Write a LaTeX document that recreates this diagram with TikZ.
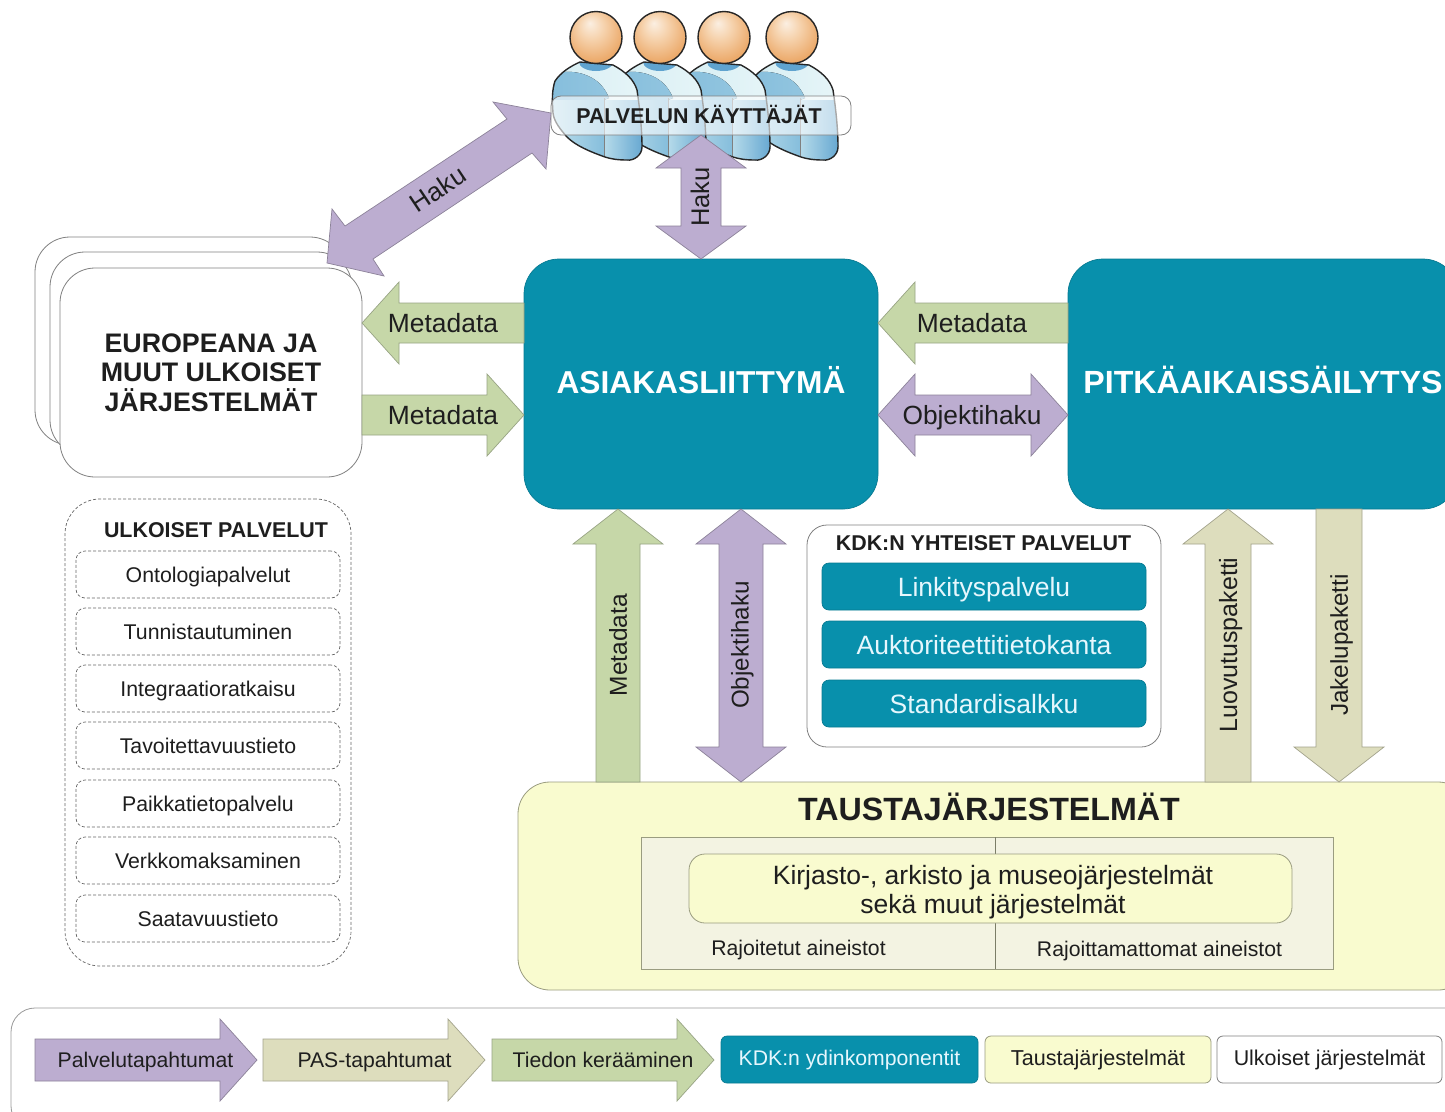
\documentclass[tikz,border=0pt]{standalone}
\usepackage{fontspec}
\setmainfont{Liberation Sans}
\usetikzlibrary{calc}
\definecolor{purp}{HTML}{BCADD0}
\definecolor{purpe}{HTML}{8C8299}
\definecolor{gre}{HTML}{C6D7A8}
\definecolor{gree}{HTML}{98A484}
\definecolor{kha}{HTML}{DDDDBD}
\definecolor{khae}{HTML}{A3A38C}
\definecolor{teal1}{HTML}{0890AC}
\definecolor{yel}{HTML}{F9FBCF}
\definecolor{yele}{HTML}{9A9C80}
\definecolor{inn}{HTML}{F3F3E2}
\definecolor{ink}{HTML}{1E1E1E}
\definecolor{bodyl}{HTML}{D6EEF3}
\definecolor{bodym}{HTML}{86BEDC}
\definecolor{bodyd}{HTML}{5FA3CF}
\definecolor{hd0}{HTML}{FBEFE2}
\definecolor{hd1}{HTML}{F6D3AE}
\definecolor{hd2}{HTML}{EBA766}
\definecolor{hd3}{HTML}{D98A3C}
\definecolor{hd4}{HTML}{B87025}
\pgfdeclareradialshading{headshade}{\pgfpoint{-6bp}{14bp}}{
  color(0bp)=(hd0); color(12bp)=(hd1); color(30bp)=(hd2); color(42bp)=(hd3); color(50bp)=(hd4)}
\tikzset{
  x=1pt,y=-1pt,
  sz/.style={font=\fontsize{#1}{#1}\selectfont,text height={#1*0.72pt},text depth=0pt},
  szb/.style={font=\fontsize{#1}{#1}\selectfont\bfseries,text height={#1*0.72pt},text depth=0pt},
  tx/.style={sz=#1,inner sep=0pt,text=ink},
  txb/.style={szb=#1,inner sep=0pt,text=ink},
  arrp/.style={fill=purp,draw=purpe,line width=.7pt,line join=miter},
  arrg/.style={fill=gre,draw=gree,line width=.7pt,line join=miter},
  arrk/.style={fill=kha,draw=khae,line width=.7pt,line join=miter},
  boxbase/.style={inner sep=0pt,outer sep=0pt,align=center},
  whitebox/.style={boxbase,fill=white,draw=black!50,line width=.8pt,rounded corners=#1},
  dashbox/.style={boxbase,draw=black!60,densely dashed,line width=.7pt,rounded corners=#1},
  tealbox/.style={boxbase,fill=teal1,draw=teal1!85!black,line width=.7pt,rounded corners=#1},
  yelbox/.style={boxbase,fill=yel,draw=yele,line width=.8pt,rounded corners=#1},
  itembox/.style={dashbox=9pt,sz=21.3,text=ink},
  tealtext/.style={text=white!90!cyan},
}
% name, x1, y1, x2, y2, style, text
\newcommand\bx[7]{\node[#6,minimum width={(#4-#2)*1pt},minimum height={(#5-#3)*1pt}] (#1) at ({(#2+#4)/2},{(#3+#5)/2}) {#7};}
% style, start, end, shaft half, head half, head length
\newcommand\arrone[6]{%
  \coordinate (s) at (#2); \coordinate (e) at (#3);
  \draw[#1] ($(s)!#4pt!90:(e)$) -- ($(e)!#6pt!(s)!#4pt!90:(e)$) -- ($(e)!#6pt!(s)!#5pt!90:(e)$) -- (e)
    -- ($(e)!#6pt!(s)!#5pt!-90:(e)$) -- ($(e)!#6pt!(s)!#4pt!-90:(e)$) -- ($(s)!#4pt!-90:(e)$) -- cycle;}
\newcommand\arrtwo[6]{%
  \coordinate (s) at (#2); \coordinate (e) at (#3);
  \draw[#1] (s) -- ($(s)!#6pt!(e)!#5pt!90:(e)$) -- ($(s)!#6pt!(e)!#4pt!90:(e)$)
    -- ($(e)!#6pt!(s)!#4pt!90:(e)$) -- ($(e)!#6pt!(s)!#5pt!90:(e)$) -- (e)
    -- ($(e)!#6pt!(s)!#5pt!-90:(e)$) -- ($(e)!#6pt!(s)!#4pt!-90:(e)$)
    -- ($(s)!#6pt!(e)!#4pt!-90:(e)$) -- ($(s)!#6pt!(e)!#5pt!-90:(e)$) -- cycle;}
% person: centre x of head
\newcommand\personbody[1]{%
  \begin{scope}[shift={(#1,0)}]
    \def\bodypath{(-43,113) .. controls (-44,100) and (-44,90) .. (-41,81) .. controls (-35,72) and (-25,66) .. (-16,62) -- (17,65) .. controls (30,72) and (38,80) .. (41,90) .. controls (44,110) and (46,130) .. (46,147) .. controls (46,155) and (38,161) .. (31,160) .. controls (22,160) and (15,159) .. (9,157) .. controls (-5,152) and (-20,146) .. (-29,137) .. controls (-35,130) and (-42,122) .. (-43,113) -- cycle}
    \fill[left color=bodyl,right color=bodyl!60!white] \bodypath;
    \begin{scope}
      \clip \bodypath;
      \fill[left color=bodym,right color=bodym!85!bodyl] (-46,76) .. controls (-30,68) and (-8,72) .. (4,84) .. controls (8,88) and (11,93) .. (13,98) -- (8,100) -- (-46,100) -- cycle;
      \fill[left color=bodyl!70!bodym,right color=bodym] (-46,100) -- (8,100) -- (8,165) -- (-46,165) -- cycle;
      \fill[left color=bodyl!60!bodym,right color=bodyd] (8,100) -- (50,100) -- (50,165) -- (8,165) -- cycle;
      \fill[bodyd] (0,62) ellipse (17 and 9);
      \draw[black!50,line width=.6pt] (8,98) -- (8,160);
    \end{scope}
    \draw[black!85,line width=1.4pt,line join=round] \bodypath;
  \end{scope}}
\newcommand\personhead[1]{\draw[black!85,line width=1.4pt,shading=headshade] (#1,37.5) circle (26);}
\begin{document}
\begin{tikzpicture}
\useasboundingbox (0,0) rectangle (1445,1111);
\fill[white] (0,0) rectangle (1445,1111);

% people
\personbody{792}\personbody{724}\personbody{660}\personbody{596}
\personhead{792}\personhead{724}\personhead{660}\personhead{596}

% external systems stack
\bx{extc}{35}{237}{345}{445}{whitebox=35pt}{}
\bx{extb}{50}{252}{352}{455}{whitebox=35pt}{}
\node[whitebox=35pt,minimum width=302pt,minimum height=209pt,font=\fontsize{26.8}{29.5}\selectfont\bfseries,text=ink] (ext) at (211,372.5) {EUROPEANA JA\\MUUT ULKOISET\\JÄRJESTELMÄT};

% core
\bx{asiakas}{524}{259}{878}{509}{tealbox=35pt,text=white,szb=31.7,text depth=4pt}{ASIAKASLIITTYMÄ}
\bx{pitka}{1068}{259}{1458}{509}{tealbox=35pt,text=white,szb=32.1,text depth=4pt}{PITKÄAIKAISSÄILYTYS}

% back-end systems
\bx{tausta}{518}{782}{1470}{990}{yelbox=32pt}{}
\node[txb=32.2] (taustat) at (989,809) {TAUSTAJÄRJESTELMÄT};
\bx{inner}{641}{837}{1333}{969}{boxbase,fill=inn,draw=yele,line width=.8pt}{}
\coordinate (divt) at (995,837); \coordinate (divb) at (995,969);
\draw[yele!80!black,line width=.8pt] (divt) -- (divb);
\bx{kirj}{689}{854}{1292}{923}{yelbox=16pt}{}
\node[boxbase,text=ink,font=\fontsize{26.5}{29.2}\selectfont] (kirjt) at (993,892.5) {Kirjasto-, arkisto ja museojärjestelmät\\sekä muut järjestelmät};
\node[tx=21.2] (raj) at (798.5,948) {Rajoitetut aineistot};
\node[tx=21.2] (rajm) at (1159.5,949) {Rajoittamattomat aineistot};

% shared services
\bx{kdk}{807}{525}{1161}{747}{whitebox=20pt}{}
\node[txb=21.4] (kdkt) at (983.5,543) {KDK:N YHTEISET PALVELUT};
\bx{s1}{822}{563}{1146}{610}{tealbox=7pt,tealtext,sz=26.5}{Linkityspalvelu}
\bx{s2}{822}{621}{1146}{668}{tealbox=7pt,tealtext,sz=26.5}{Auktoriteettitietokanta}
\bx{s3}{822}{680}{1146}{727}{tealbox=7pt,tealtext,sz=26.5}{Standardisalkku}

% external services
\bx{upal}{65}{499}{351}{966}{dashbox=35pt}{}
\node[txb=21.4] (upalt) at (216,530) {ULKOISET PALVELUT};
\bx{u1}{76}{551}{340}{598}{itembox}{Ontologiapalvelut}
\bx{u2}{76}{608}{340}{655}{itembox}{Tunnistautuminen}
\bx{u3}{76}{665}{340}{712}{itembox}{Integraatioratkaisu}
\bx{u4}{76}{722}{340}{769}{itembox}{Tavoitettavuustieto}
\bx{u5}{76}{780}{340}{827}{itembox}{Paikkatietopalvelu}
\bx{u6}{76}{837}{340}{884}{itembox}{Verkkomaksaminen}
\bx{u7}{76}{895}{340}{942}{itembox}{Saatavuustieto}

% user label
\node[boxbase,fill=white,fill opacity=.6,draw=black!50,line width=.8pt,rounded corners=10pt,minimum width=300pt,minimum height=39pt] (users) at (701,115.5) {};
\node[txb=21.4] (userst) at (699,115.5) {PALVELUN KÄYTTÄJÄT};

% arrows
\draw[arrp] (327,263) -- (332,209) -- (345,226) -- (507,119) -- (493,102) -- (551,113) -- (546,169) -- (532,153) -- (373,259) -- (384,276) -- cycle;
\node[tx=26,rotate=33.8] (lh1) at (438,189) {Haku};
\arrtwo{arrp}{users.south -| asiakas.north}{asiakas.north}{20}{45}{33}
\node[tx=25.5,rotate=90] (lh2) at (700,197) {Haku};
\arrone{arrg}{asiakas.west |- 0,323}{ext.east |- 0,323}{20}{41}{37}
\node[tx=26.4] (lm1) at (443,323) {Metadata};
\arrone{arrg}{ext.east |- 0,415}{asiakas.west |- 0,415}{20}{41}{37}
\node[tx=26.4] (lm2) at (443,415) {Metadata};
\arrone{arrg}{pitka.west |- 0,323}{asiakas.east |- 0,323}{20}{41}{37}
\node[tx=26.4] (lm3) at (972,323) {Metadata};
\arrtwo{arrp}{asiakas.east |- 0,415}{pitka.west |- 0,415}{20}{41}{37}
\node[tx=26.3] (lo1) at (972,415) {Objektihaku};
\arrone{arrg}{618,782}{618,509}{22}{45}{35}
\node[tx=24.5,rotate=90] (lm4) at (618,645) {Metadata};
\arrtwo{arrp}{741,782}{741,509}{22}{45}{35}
\node[tx=24.2,rotate=90] (lo2) at (740,645) {Objektihaku};
\arrone{arrk}{1228,782}{1228,509}{23}{45}{35}
\node[tx=25,rotate=90] (ll) at (1228,645) {Luovutuspaketti};
\arrone{arrk}{1339,509}{1339,782}{23}{45}{35}
\node[tx=24.3,rotate=90] (lj) at (1339,645) {Jakelupaketti};

% legend
\bx{leg}{11}{1008}{1490}{1130}{boxbase,fill=white,draw=black!40,line width=.8pt,rounded corners=24pt}{}
\arrone{arrp}{35,1060}{257,1060}{21}{41}{37}
\node[tx=21.2] (l1) at (145.5,1060) {Palvelutapahtumat};
\arrone{arrk}{263,1060}{485,1060}{21}{41}{37}
\node[tx=21.2] (l2) at (374.5,1060) {PAS-tapahtumat};
\arrone{arrg}{492,1060}{714,1060}{21}{41}{37}
\node[tx=21.2] (l3) at (603,1060) {Tiedon kerääminen};
\bx{l4}{721}{1036}{978}{1083}{tealbox=6pt,tealtext,sz=21.2,text depth=3pt}{KDK:n ydinkomponentit}
\bx{l5}{985}{1036}{1211}{1083}{yelbox=6pt,text=ink,sz=21.6,text depth=3pt}{Taustajärjestelmät}
\bx{l6}{1217}{1036}{1442}{1083}{whitebox=6pt,text=ink,sz=21.4,text depth=3pt}{Ulkoiset järjestelmät}
\end{tikzpicture}
\end{document}
